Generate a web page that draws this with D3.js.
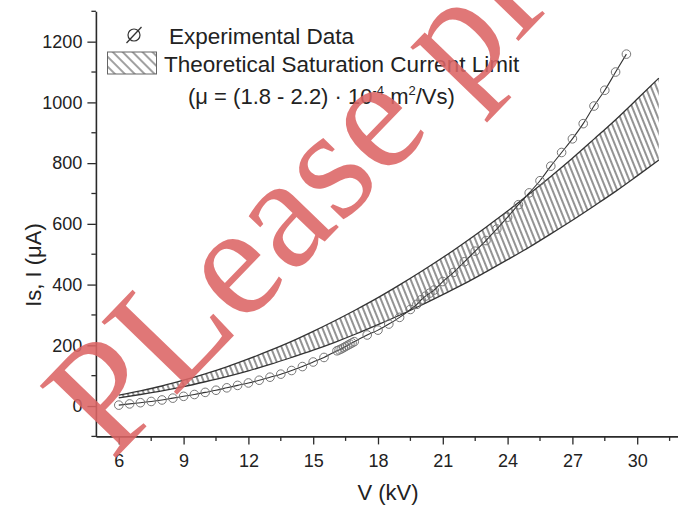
<!DOCTYPE html>
<html><head><meta charset="utf-8">
<script src="https://cdn.jsdelivr.net/npm/d3@7/dist/d3.min.js"></script>
<style>body{margin:0;background:#fff}svg{display:block;font-family:"Liberation Sans",Arial,sans-serif}</style>
</head><body>
<svg id="c" width="678" height="506"></svg>
<script>
// Experimental data
const expV = [6,6.5,7,7.5,8,8.5,9,9.5,10,10.5,11,11.5,12,12.5,13,13.5,14,14.5,15,15.5,
  16.1,16.2,16.3,16.4,16.5,16.6,16.7,16.8,16.9,
  17.5,18,18.5,19,19.5,19.8,20,20.2,20.4,20.6,21,21.5,22,22.5,23,23.5,24,24.5,25,25.5,26,26.5,27,27.5,28,28.5,29,29.5];
const expI = [3,7,11,15,20,26,32,38,45,52,60,68,76,85,95,105,117,130,145,160,
  182,185,188,192,196,200,204,208,212,
  234,250,270,292,318,335,350,362,372,382,410,440,475,510,545,583,622,663,702,742,790,835,880,930,988,1040,1100,1159];
// Theoretical saturation current band
const thV = [6,7,8,9,10,11,12,13,14,15,16,17,18,19,20,21,22,23,24,25,26,27,28,29,30,31];
const thUpper = [36,50,66,85,106,129,155,183,213,246,281,318,357,399,443,489,538,589,642,698,756,816,879,943,1011,1080];
const thLower = [27,38,50,64,80,97,116,137,160,184,210,238,268,299,332,367,403,442,482,523,567,612,659,707,758,810];
// Axes
const xTicks = [6,9,12,15,18,21,24,27,30];
const xMinor = [7.5,10.5,13.5,16.5,19.5,22.5,25.5,28.5,31.5];
const yTicks = [0,200,400,600,800,1000,1200];
const yMinor = [-100,100,300,500,700,900,1100,1300];

const svg = d3.select("#c");
const x = d3.scaleLinear().domain([4.94, 32]).range([95.9, 680.4]);
const y = d3.scaleLinear().domain([-100, 1300]).range([436.4, 11.3]);
const ink = "#2a2a2a";

const defs = svg.append("defs");
const pb = defs.append("pattern").attr("id","hb").attr("patternUnits","userSpaceOnUse")
  .attr("width",5).attr("height",20).attr("patternTransform","rotate(-22)");
pb.append("line").attr("x1",1).attr("y1",0).attr("x2",1).attr("y2",20).attr("stroke","#3a3a3a").attr("stroke-width",1.1);
const pl = defs.append("pattern").attr("id","hl").attr("patternUnits","userSpaceOnUse")
  .attr("width",7).attr("height",20).attr("patternTransform","rotate(-45)");
pl.append("line").attr("x1",1).attr("y1",0).attr("x2",1).attr("y2",20).attr("stroke","#444").attr("stroke-width",1);

const band = thV.map((v,i)=>({v, u:thUpper[i], l:thLower[i]}));
svg.append("path").datum(band)
  .attr("d", d3.area().x(d=>x(d.v)).y0(d=>y(d.l)).y1(d=>y(d.u)).curve(d3.curveMonotoneX))
  .attr("fill","url(#hb)").attr("stroke","none");
svg.append("path").datum(band)
  .attr("d", d3.line().x(d=>x(d.v)).y(d=>y(d.u)).curve(d3.curveMonotoneX))
  .attr("fill","none").attr("stroke","#333").attr("stroke-width",1.3);
svg.append("path").datum(band)
  .attr("d", d3.line().x(d=>x(d.v)).y(d=>y(d.l)).curve(d3.curveMonotoneX))
  .attr("fill","none").attr("stroke","#333").attr("stroke-width",1.3);

const pts = expV.map((v,i)=>({v, i:expI[i]}));
svg.append("path").datum(pts)
  .attr("d", d3.line().x(d=>x(d.v)).y(d=>y(d.i)).curve(d3.curveMonotoneX))
  .attr("fill","none").attr("stroke","#333").attr("stroke-width",1.1);
svg.append("g").selectAll("circle").data(pts).join("circle")
  .attr("cx",d=>x(d.v)).attr("cy",d=>y(d.i)).attr("r",4.3)
  .attr("fill","none").attr("stroke","#777").attr("stroke-width",1);

// axes
const gx = svg.append("g").attr("transform",`translate(0,${y(-100)})`)
  .call(d3.axisBottom(x).tickValues(xTicks).tickSize(8).tickPadding(10).tickSizeOuter(0));
gx.append("g").selectAll("line").data(xMinor).join("line")
  .attr("x1",d=>x(d)).attr("x2",d=>x(d)).attr("y1",0).attr("y2",4.5).attr("stroke",ink).attr("stroke-width",1.3);
const gy = svg.append("g").attr("transform",`translate(${x(4.94)},0)`)
  .call(d3.axisLeft(y).tickValues(yTicks).tickFormat(d3.format("d")).tickSize(8.5).tickPadding(5).tickSizeOuter(0));
gy.append("g").selectAll("line").data(yMinor).join("line")
  .attr("y1",d=>y(d)).attr("y2",d=>y(d)).attr("x1",0).attr("x2",-4.5).attr("stroke",ink).attr("stroke-width",1.3);
[gx,gy].forEach(g=>{
  g.select(".domain").attr("stroke",ink).attr("stroke-width",1.6);
  g.selectAll(".tick line").attr("stroke",ink).attr("stroke-width",1.3);
  g.selectAll(".tick text").attr("fill","#222").style("font-size","18px").style("font-family","'Liberation Sans',Arial,sans-serif");
});
svg.append("text").attr("x",388).attr("y",500).attr("text-anchor","middle")
  .attr("fill","#222").style("font-size","22px").text("V (kV)");
svg.append("text").attr("transform","translate(41,265) rotate(-90)").attr("text-anchor","middle")
  .attr("fill","#222").style("font-size","22px").text("Is, I (μA)");

// legend
svg.append("circle").attr("cx",134).attr("cy",35).attr("r",6).attr("fill","none").attr("stroke","#333").attr("stroke-width",1.2);
svg.append("line").attr("x1",126.5).attr("y1",43).attr("x2",141.5).attr("y2",27).attr("stroke","#333").attr("stroke-width",1.2);
svg.append("text").attr("x",169).attr("y",43.5).attr("fill","#222").style("font-size","22.5px").text("Experimental Data");
svg.append("rect").attr("x",107.5).attr("y",52).attr("width",49).attr("height",22)
  .attr("fill","url(#hl)").attr("stroke","#666").attr("stroke-width",1);
svg.append("text").attr("x",164).attr("y",71.5).attr("fill","#222").style("font-size","22.5px").text("Theoretical Saturation Current Limit");
const t3 = svg.append("text").attr("x",188).attr("y",103.5).attr("fill","#222").style("font-size","22px");
t3.append("tspan").text("(μ = (1.8 - 2.2) · 10");
t3.append("tspan").attr("dy",-9).style("font-size","13px").text("-4");
t3.append("tspan").attr("dy",9).text(" m");
t3.append("tspan").attr("dy",-9).style("font-size","13px").text("2");
t3.append("tspan").attr("dy",9).text("/Vs)");

// watermark
svg.append("text").attr("transform","translate(112,462) rotate(-46)")
  .attr("fill","#dc6464").attr("fill-opacity",0.88)
  .style("font-family","'Liberation Serif','DejaVu Serif',serif").style("font-size","160px")
  .text("PLease pl");
</script>
</body></html>
